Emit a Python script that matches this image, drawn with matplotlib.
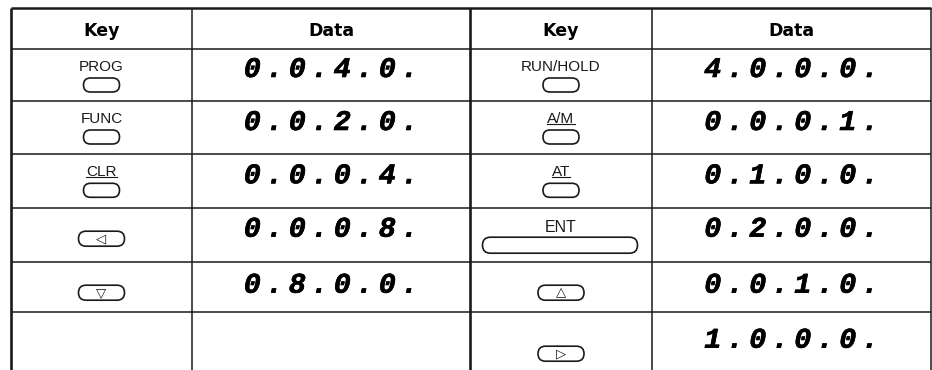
import matplotlib.pyplot as plt
import matplotlib.patheffects as pe
from matplotlib.patches import FancyBboxPatch

# ============================================================
# DATA
# ============================================================

left_keys = ["PROG", "FUNC", "CLR", "◁", "▽", ""]
left_data = ["0.0.4.0.", "0.0.2.0.", "0.0.0.4.", "0.0.0.8.", "0.8.0.0.", ""]
right_keys = ["RUN/HOLD", "A/M", "AT", "ENT", "△", "▷"]
right_data = ["4.0.0.0.", "0.0.0.1.", "0.1.0.0.", "0.2.0.0.", "0.0.1.0.", "1.0.0.0."]
headers = ["Key", "Data", "Key", "Data"]
underlined = ["CLR", "A/M", "AT"]

# ============================================================
# LAYOUT (pixel coords)
# ============================================================

W, H = 932, 370
col_x = [11, 192, 470, 652, 931]
row_y = [8, 49, 101, 154.3, 207.7, 261.7, 311.7]
data_dy = [21, 22, 22, 22, 24, 29]
btn_dy_arrow = [31, 31, 31, 31, 31, 42]
ink = "#1a1a1a"

fig = plt.figure(figsize=(W / 100, H / 100), dpi=100)
ax = fig.add_axes([0, 0, 1, 1])
ax.set_xlim(0, W)
ax.set_ylim(H, 0)
ax.axis("off")

# grid lines
for y in row_y:
    lw = 1.8 if y == row_y[0] else 1.1
    ax.plot([col_x[0], col_x[-1]], [y, y], color=ink, lw=lw, solid_capstyle="butt")
for x in col_x:
    lw = 1.9 if x in (col_x[0], col_x[2]) else 1.1
    ax.plot([x, x], [row_y[0], H], color=ink, lw=lw, solid_capstyle="butt")

# header
for i, h in enumerate(headers):
    cx = (col_x[i] + col_x[i + 1]) / 2
    ax.text(cx, 35.5, h, ha="center", va="baseline", fontsize=12.5,
            fontweight="bold", family="DejaVu Sans", color="black")


def draw_button(cx, cy, w, h):
    ax.add_patch(FancyBboxPatch((cx - w / 2, cy - h / 2), w, h,
                                boxstyle="round,pad=0,rounding_size=%g" % (h / 2),
                                fc="white", ec=ink, lw=1.2))


def draw_key(cx, top, label, r):
    if label in ("◁", "▽", "△", "▷"):
        cy = top + btn_dy_arrow[r]
        draw_button(cx, cy, 46, 15)
        ax.text(cx, cy + 0.5, label, ha="center", va="center", fontsize=9.5,
                family="DejaVu Sans", color=ink)
    elif label == "ENT":
        ax.text(cx, top + 24.3, label, ha="center", va="baseline", fontsize=11.5,
                family="Liberation Sans", color=ink)
        draw_button(cx - 1, top + 37.5, 155, 16)
    elif label:
        t = ax.text(cx, top + 21.7, label, ha="center", va="baseline", fontsize=11,
                    family="Liberation Sans", color=ink)
        if label in underlined:
            fig.canvas.draw()
            bb = t.get_window_extent().transformed(ax.transData.inverted())
            ax.plot([bb.x0, bb.x1], [top + 23, top + 23], color=ink, lw=0.8)
        draw_button(cx, top + 36, 36, 14)


def draw_data(cx, cy, s):
    pitch = 22.5
    n = len(s)
    for k, ch in enumerate(s):
        ax.text(cx + (k - (n - 1) / 2) * pitch, cy, ch, ha="center", va="center",
                fontsize=20.5, family="Liberation Mono", fontweight="bold",
                fontstyle="italic", color="black",
                path_effects=[pe.withStroke(linewidth=0.45, foreground="black")])


for r in range(6):
    top = row_y[r + 1]
    draw_key((col_x[0] + col_x[1]) / 2, top, left_keys[r], r)
    draw_key((col_x[2] + col_x[3]) / 2, top, right_keys[r], r)
    draw_data((col_x[1] + col_x[2]) / 2, top + data_dy[r], left_data[r])
    draw_data((col_x[3] + col_x[4]) / 2, top + data_dy[r], right_data[r])

plt.savefig("out.png", dpi=100)
